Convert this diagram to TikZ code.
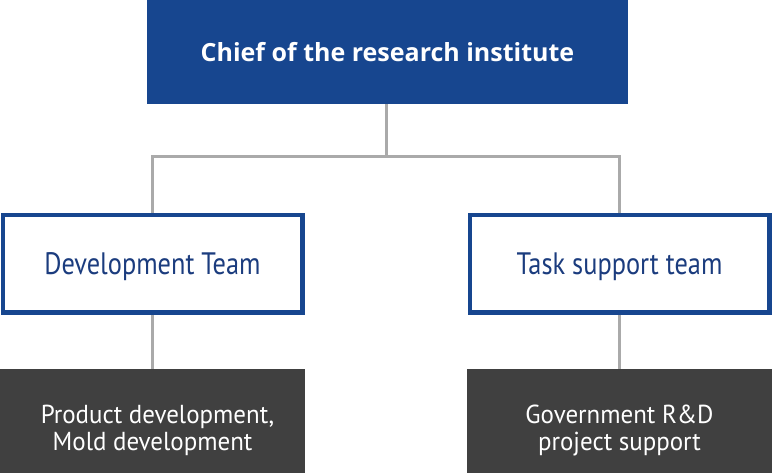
\documentclass[tikz,border=0pt]{standalone}
\usepackage{fontspec}
\setmainfont{PT Sans}
\newfontfamily\topfont{Open Sans}
\newfontfamily\midfont[FakeStretch=0.85]{PT Sans}
\newfontfamily\botfont[FakeStretch=0.96]{PT Sans}
\definecolor{topblue}{HTML}{17468F}
\definecolor{textblue}{HTML}{1B3C7E}
\definecolor{linegray}{HTML}{AAAAAA}
\definecolor{darkbox}{HTML}{404040}
\begin{document}
\begin{tikzpicture}[x=1pt,y=-1pt,
  topbox/.style={fill=topblue,draw=none,minimum width=481pt,minimum height=104pt,inner sep=0pt,text=white,text height=20pt,text depth=0pt,font=\topfont\fontsize{25}{30}\selectfont\bfseries},
  midbox/.style={fill=white,draw=topblue,line width=4.5pt,minimum width=299.5pt,minimum height=97.5pt,inner sep=0pt,text=textblue,text height=22pt,text depth=0pt,font=\midfont\fontsize{31}{34}\selectfont},
  botbox/.style={fill=darkbox,draw=none,minimum width=305pt,minimum height=104pt,inner sep=0pt,text=white,align=center,text height=58pt,text depth=0pt,font=\botfont\fontsize{26}{27}\selectfont},
  conn/.style={draw=linegray,line width=3pt}]
\useasboundingbox (0,0) rectangle (772,473);
\node[topbox] (chief) at (387.5,52) {Chief of the research institute};
\node[midbox] (dev) at (152.5,264) {Development Team};
\node[midbox] (task) at (619.5,264) {Task support team};
\node[botbox] (prod) at (152.5,421) {\hspace*{10pt}Product development,\\Mold development};
\node[botbox] (gov) at (619.5,421) {Government R\&D\\project support};
\coordinate (mid) at (386.5,156.5);
\draw[conn] (chief.south -| mid) -- (mid);
\draw[conn] (dev.north) |- (mid) -| (task.north);
\draw[conn] (dev.south) -- (prod.north);
\draw[conn] (task.south) -- (gov.north);
\end{tikzpicture}
\end{document}
